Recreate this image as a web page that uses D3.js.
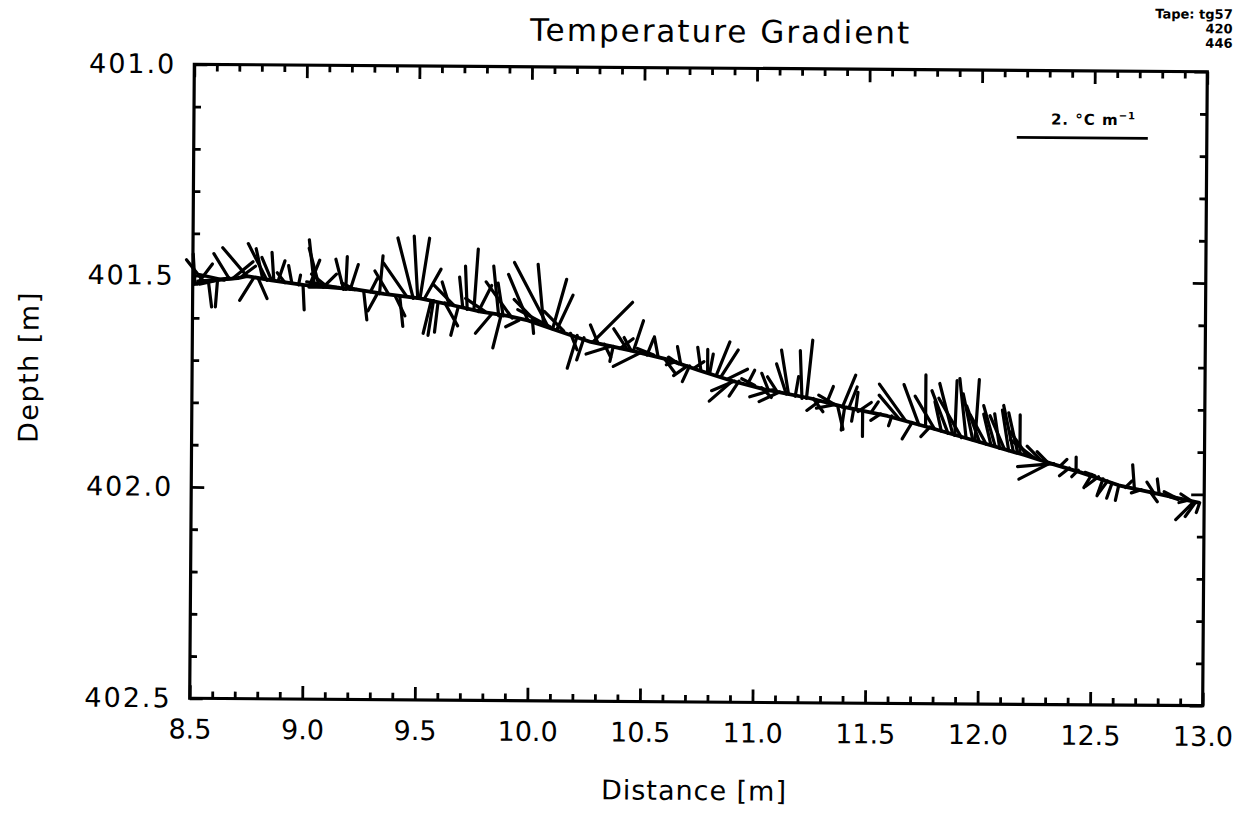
<!DOCTYPE html>
<html>
<head>
<meta charset="utf-8">
<script src="https://cdn.jsdelivr.net/npm/d3@7"></script>
<style>
    body { margin: 0; background: #fff; }
    svg { display: block; }
    text { font-family: "DejaVu Sans", sans-serif; fill: #000; }
</style>
</head>
<body>
<div id="wrapper"></div>
<script>
// track of the measurement line (distance [m], depth [m])
const trackDistance = [8.50, 8.60, 8.70, 8.74, 8.85, 8.99, 9.10, 9.23, 9.35, 9.51, 9.65, 9.78, 9.90, 9.99,
    10.10, 10.27, 10.45, 10.61, 10.75, 10.90, 11.05, 11.25, 11.40, 11.59, 11.80, 12.00, 12.20, 12.32,
    12.45, 12.62, 12.80, 12.98]
const trackDepth = [401.52, 401.51, 401.505, 401.50, 401.51, 401.52, 401.525, 401.53, 401.54, 401.55,
    401.565, 401.58, 401.59, 401.60, 401.62, 401.65, 401.67, 401.69, 401.715, 401.74, 401.76, 401.78,
    401.80, 401.82, 401.85, 401.88, 401.91, 401.93, 401.95, 401.98, 402.00, 402.02]

// gradient vectors: [distance, depth, grad along x, grad along depth] in degC/m
const gradientVectors = [
    [8.51, 401.52, -0.03, -0.46], [8.52, 401.52, 0.23, -0.31], [8.53, 401.52, 0.45, -0.10],
    [8.55, 401.515, -0.27, -0.34], [8.57, 401.515, 0.05, 0.38], [8.61, 401.51, -0.03, 0.41],
    [8.64, 401.51, -0.38, -0.08], [8.66, 401.505, -0.23, -0.37], [8.68, 401.505, 0.30, -0.25],
    [8.70, 401.505, -0.61, 0.05], [8.72, 401.50, 0.20, -0.15], [8.74, 401.50, -0.37, -0.43],
    [8.77, 401.505, -0.21, 0.34], [8.79, 401.505, 0.14, 0.31], [8.81, 401.505, -0.10, -0.45],
    [8.83, 401.51, -0.29, -0.56], [8.85, 401.51, -0.15, -0.35], [8.86, 401.51, -0.03, -0.43],
    [8.88, 401.51, 0.10, -0.30], [8.91, 401.515, -0.12, -0.15], [8.94, 401.515, -0.05, -0.26],
    [8.97, 401.52, 0.03, -0.15], [8.99, 401.52, 0.02, 0.38], [9.02, 401.52, 0.15, -0.38],
    [9.04, 401.52, -0.08, -0.69], [9.06, 401.52, -0.15, -0.56], [9.08, 401.525, 0.20, -0.20],
    [9.10, 401.525, -0.25, -0.20], [9.14, 401.525, -0.46, -0.08], [9.15, 401.525, -0.46, 0.00],
    [9.17, 401.53, -0.12, -0.46], [9.18, 401.53, 0.02, -0.50], [9.20, 401.53, 0.12, -0.38],
    [9.22, 401.53, -0.20, -0.10], [9.26, 401.535, 0.05, 0.43], [9.29, 401.535, 0.10, -0.20],
    [9.32, 401.54, -0.14, 0.26], [9.33, 401.54, 0.05, -0.58], [9.37, 401.54, -0.21, -0.35],
    [9.40, 401.545, 0.15, 0.30], [9.42, 401.545, 0.05, 0.46], [9.45, 401.545, -0.35, -0.50],
    [9.48, 401.55, -0.24, -0.92], [9.50, 401.55, -0.06, -0.95], [9.51, 401.55, 0.14, -0.92],
    [9.53, 401.55, 0.25, -0.45], [9.56, 401.555, -0.12, 0.50], [9.57, 401.555, -0.08, 0.53],
    [9.59, 401.56, -0.05, 0.45], [9.62, 401.56, 0.20, 0.35], [9.64, 401.565, -0.11, -0.35],
    [9.66, 401.565, -0.31, -0.31], [9.68, 401.57, -0.11, 0.43], [9.70, 401.57, -0.05, -0.46],
    [9.72, 401.575, -0.03, -0.66], [9.75, 401.575, 0.06, -0.92], [9.77, 401.58, 0.20, -0.40],
    [9.80, 401.58, -0.30, -0.20], [9.83, 401.585, -0.25, 0.30], [9.86, 401.59, -0.08, -0.76],
    [9.87, 401.59, -0.12, 0.49], [9.88, 401.59, -0.08, -0.50], [9.92, 401.595, -0.40, -0.55],
    [9.95, 401.60, -0.20, 0.10], [9.99, 401.60, -0.30, -0.70], [10.01, 401.60, 0.02, 0.20],
    [10.03, 401.605, -0.35, -0.35], [10.06, 401.61, -0.09, -0.92], [10.08, 401.615, -0.52, -0.98],
    [10.09, 401.615, -0.50, -0.26], [10.10, 401.62, 0.21, -0.76], [10.12, 401.62, 0.24, -0.52],
    [10.15, 401.625, -0.30, -0.30], [10.18, 401.63, 0.10, 0.25], [10.21, 401.635, -0.15, 0.50],
    [10.24, 401.64, -0.11, 0.34], [10.28, 401.65, 0.60, -0.61], [10.30, 401.65, -0.11, -0.26],
    [10.33, 401.655, 0.10, 0.20], [10.36, 401.66, -0.38, 0.12], [10.37, 401.66, -0.05, 0.23],
    [10.40, 401.665, 0.20, -0.15], [10.43, 401.665, -0.20, -0.30], [10.45, 401.67, -0.11, -0.20],
    [10.46, 401.67, 0.15, -0.46], [10.49, 401.675, -0.41, 0.21], [10.52, 401.68, 0.10, -0.25],
    [10.55, 401.68, -0.25, -0.10], [10.57, 401.685, -0.06, -0.31], [10.60, 401.69, 0.15, 0.20],
    [10.65, 401.695, -0.15, 0.05], [10.66, 401.70, -0.15, -0.10], [10.67, 401.70, -0.05, -0.26],
    [10.70, 401.705, -0.21, 0.15], [10.71, 401.705, -0.11, 0.24], [10.73, 401.71, 0.15, -0.10],
    [10.76, 401.715, -0.05, -0.35], [10.79, 401.72, 0.00, -0.35], [10.80, 401.72, 0.05, -0.28],
    [10.83, 401.725, 0.20, -0.50], [10.85, 401.73, 0.26, -0.41], [10.88, 401.735, 0.30, -0.15],
    [10.90, 401.74, -0.35, 0.31], [10.91, 401.74, -0.35, 0.15], [10.93, 401.74, -0.15, 0.23],
    [10.97, 401.745, 0.10, -0.20], [11.00, 401.75, -0.20, -0.10], [11.03, 401.755, 0.15, 0.15],
    [11.06, 401.76, -0.10, -0.25], [11.08, 401.76, -0.35, 0.11], [11.10, 401.765, -0.15, -0.23],
    [11.11, 401.765, -0.31, 0.15], [11.14, 401.77, -0.15, -0.46], [11.15, 401.77, -0.11, -0.67],
    [11.18, 401.775, 0.05, -0.30], [11.21, 401.78, -0.03, -0.73], [11.23, 401.78, 0.09, -0.89],
    [11.26, 401.78, 0.15, 0.20], [11.29, 401.785, -0.20, 0.15], [11.32, 401.79, 0.10, -0.25],
    [11.35, 401.795, -0.26, 0.05], [11.36, 401.795, -0.26, -0.15], [11.37, 401.80, 0.08, 0.34],
    [11.39, 401.80, 0.20, -0.49], [11.40, 401.80, -0.05, 0.35], [11.42, 401.80, 0.12, -0.31],
    [11.44, 401.805, -0.03, 0.18], [11.45, 401.805, 0.03, -0.26], [11.46, 401.81, 0.20, -0.14],
    [11.48, 401.81, 0.00, 0.38], [11.52, 401.81, 0.10, -0.15], [11.56, 401.815, -0.15, 0.10],
    [11.61, 401.82, -0.05, 0.15], [11.64, 401.825, -0.30, -0.35], [11.67, 401.83, -0.40, -0.55],
    [11.70, 401.835, -0.15, 0.25], [11.73, 401.84, -0.23, -0.61], [11.76, 401.84, 0.00, -0.76],
    [11.78, 401.845, -0.14, 0.15], [11.80, 401.85, -0.30, -0.50], [11.83, 401.855, -0.10, -0.45],
    [11.86, 401.86, -0.25, -0.65], [11.88, 401.86, -0.20, -0.76], [11.89, 401.865, 0.03, -0.84],
    [11.92, 401.87, -0.35, -0.60], [11.94, 401.87, -0.10, -0.90], [11.97, 401.875, -0.15, -0.70],
    [11.98, 401.875, 0.06, -0.92], [12.00, 401.88, -0.20, -0.55], [12.03, 401.885, -0.25, -0.45],
    [12.05, 401.885, -0.11, -0.46], [12.07, 401.89, -0.18, -0.62], [12.09, 401.895, -0.08, -0.53],
    [12.11, 401.895, -0.22, -0.50], [12.13, 401.90, -0.10, -0.62], [12.15, 401.90, -0.15, -0.69],
    [12.17, 401.905, -0.14, -0.61], [12.18, 401.905, 0.00, -0.58], [12.21, 401.91, -0.25, -0.35],
    [12.24, 401.915, -0.35, -0.26], [12.27, 401.92, -0.20, -0.20], [12.30, 401.925, -0.15, -0.15],
    [12.31, 401.93, -0.46, 0.24], [12.33, 401.93, -0.55, 0.05], [12.36, 401.935, 0.10, -0.10],
    [12.40, 401.94, -0.15, 0.12], [12.43, 401.945, 0.00, -0.20], [12.44, 401.945, -0.10, 0.10],
    [12.47, 401.95, 0.15, 0.05], [12.50, 401.955, -0.12, 0.20], [12.53, 401.96, -0.20, 0.15],
    [12.55, 401.965, -0.09, 0.26], [12.57, 401.97, -0.15, 0.21], [12.59, 401.975, -0.08, 0.23],
    [12.62, 401.98, -0.05, 0.23], [12.65, 401.985, 0.10, -0.10], [12.69, 401.99, -0.03, -0.38],
    [12.72, 401.99, -0.15, 0.05], [12.76, 401.995, 0.11, 0.15], [12.78, 402.00, -0.12, -0.18],
    [12.80, 402.00, -0.03, -0.23], [12.84, 402.005, 0.15, 0.05], [12.88, 402.01, -0.20, -0.10],
    [12.92, 402.015, -0.11, 0.03], [12.94, 402.015, -0.15, -0.10], [12.95, 402.02, -0.26, 0.26],
    [12.96, 402.02, -0.15, 0.21], [12.98, 402.02, -0.05, 0.15],
]

const xTickValues = [8.5, 9.0, 9.5, 10.0, 10.5, 11.0, 11.5, 12.0, 12.5, 13.0]
const yTickValues = [401.0, 401.5, 402.0, 402.5]
const legendValue = 2
const tapeLines = ["Tape: tg57", "420", "446"]

function drawChart () {
    let dimensions = {
        width: 1233,
        height: 820,
        margin: { top: 68, left: 192 },
        boundedWidth: 1013,
        boundedHeight: 634,
    }

    const wrapper = d3.select("#wrapper")
        .append("svg")
        .attr("width", dimensions.width)
        .attr("height", dimensions.height)

    // the scanned page is turned a little
    const page = wrapper.append("g")
        .attr("transform", "rotate(0.42, 698, 385)")

    const bounds = page.append("g")
        .attr("transform", `translate(${dimensions.margin.left}, ${dimensions.margin.top})`)

    const xScale = d3.scaleLinear()
        .domain([8.5, 13.0])
        .range([0, dimensions.boundedWidth])
    const yScale = d3.scaleLinear()
        .domain([401.0, 402.5])
        .range([0, dimensions.boundedHeight])
    // pixels per degC/m, same on both directions
    const vScale = d3.scaleLinear()
        .domain([0, 1])
        .range([0, 65.5])

    const xMinor = d3.range(86, 130).filter(d => d % 5 != 0).map(d => d / 10)
    const yMinor = d3.range(4011, 4025).filter(d => d % 5 != 0).map(d => d / 10)

    // axes, ticks all point inward
    const bottom = bounds.append("g")
        .attr("transform", `translate(0, ${dimensions.boundedHeight})`)
    bottom.append("g").call(d3.axisBottom(xScale).tickValues(xTickValues)
        .tickSize(-13).tickSizeOuter(0).tickPadding(21).tickFormat(d3.format(".1f")))
    bottom.append("g").call(d3.axisBottom(xScale).tickValues(xMinor)
        .tickSize(-7).tickSizeOuter(0).tickFormat(""))

    const top = bounds.append("g")
    top.append("g").call(d3.axisTop(xScale).tickValues(xTickValues)
        .tickSize(-13).tickSizeOuter(0).tickFormat(""))
    top.append("g").call(d3.axisTop(xScale).tickValues(xMinor)
        .tickSize(-7).tickSizeOuter(0).tickFormat(""))

    const left = bounds.append("g")
    left.append("g").call(d3.axisLeft(yScale).tickValues(yTickValues)
        .tickSize(-13).tickSizeOuter(0).tickPadding(18).tickFormat(d3.format(".1f")))
    left.append("g").call(d3.axisLeft(yScale).tickValues(yMinor)
        .tickSize(-7).tickSizeOuter(0).tickFormat(""))

    const right = bounds.append("g")
        .attr("transform", `translate(${dimensions.boundedWidth}, 0)`)
    right.append("g").call(d3.axisRight(yScale).tickValues(yTickValues)
        .tickSize(-13).tickSizeOuter(0).tickFormat(""))
    right.append("g").call(d3.axisRight(yScale).tickValues(yMinor)
        .tickSize(-7).tickSizeOuter(0).tickFormat(""))

    bounds.selectAll(".domain").remove()
    bounds.selectAll(".tick line")
        .attr("stroke", "#000")
        .attr("stroke-width", 2.8)
    bounds.selectAll(".tick text")
        .attr("font-family", "DejaVu Sans, sans-serif")
        .attr("font-size", 27)
        .attr("fill", "#000")
    left.selectAll(".tick text")
        .attr("letter-spacing", 2)

    bounds.append("rect")
        .attr("width", dimensions.boundedWidth)
        .attr("height", dimensions.boundedHeight)
        .attr("fill", "none")
        .attr("stroke", "#000")
        .attr("stroke-width", 3.2)

    // track
    const trackLine = d3.line()
        .x(d => xScale(d[0]))
        .y(d => yScale(d[1]))
    bounds.append("path")
        .datum(d3.zip(trackDistance, trackDepth))
        .attr("d", trackLine)
        .attr("fill", "none")
        .attr("stroke", "#000")
        .attr("stroke-width", 3.8)
        .attr("stroke-linejoin", "round")

    // gradient sticks
    bounds.selectAll("line.vec")
        .data(gradientVectors)
        .join("line")
        .attr("class", "vec")
        .attr("x1", d => xScale(d[0]))
        .attr("y1", d => yScale(d[1]))
        .attr("x2", d => xScale(d[0]) + vScale(d[2]))
        .attr("y2", d => yScale(d[1]) + vScale(d[3]))
        .attr("stroke", "#000")
        .attr("stroke-width", 3.2)
        .attr("stroke-linecap", "round")

    // scale bar
    const legend = bounds.append("g")
        .attr("transform", `translate(${823}, ${67})`)
    legend.append("line")
        .attr("x1", 0)
        .attr("x2", vScale(legendValue))
        .attr("stroke", "#000")
        .attr("stroke-width", 2.8)
    legend.append("text")
        .attr("x", vScale(legendValue) / 2 + 11)
        .attr("y", -13)
        .attr("text-anchor", "middle")
        .attr("letter-spacing", 1)
        .style("font-size", "15px")
        .style("font-weight", "bold")
        .html(`${legendValue}. °C m<tspan dy="-6" font-size="10px">−1</tspan>`)

    // labels
    page.append("text")
        .attr("x", 718)
        .attr("y", 42)
        .attr("text-anchor", "middle")
        .attr("letter-spacing", 2)
        .style("font-size", "31px")
        .text("Temperature Gradient")

    page.append("text")
        .attr("x", 697)
        .attr("y", 800)
        .attr("text-anchor", "middle")
        .attr("letter-spacing", 1)
        .style("font-size", "27px")
        .text("Distance [m]")

    page.append("text")
        .attr("transform", "translate(38, 372) rotate(-90)")
        .attr("text-anchor", "middle")
        .attr("letter-spacing", 1.5)
        .style("font-size", "27px")
        .text("Depth [m]")

    page.append("g")
        .selectAll("text")
        .data(tapeLines)
        .join("text")
        .attr("x", 1230)
        .attr("y", (d, i) => 15 + i * 14.5)
        .attr("text-anchor", "end")
        .style("font-size", "13px")
        .style("font-weight", "bold")
        .text(d => d)
}

drawChart()
</script>
</body>
</html>
